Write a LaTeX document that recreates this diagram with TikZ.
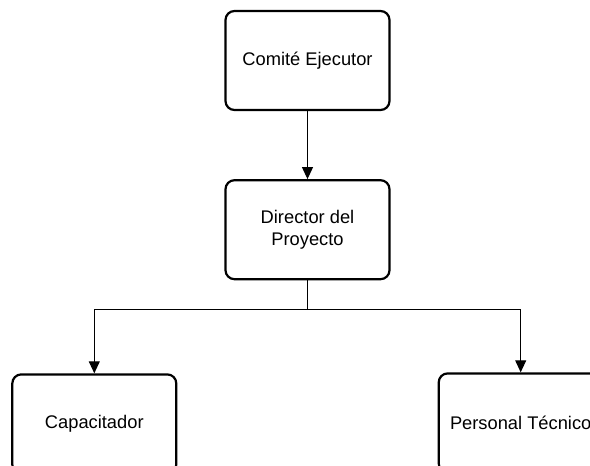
\documentclass[tikz,border=0pt]{standalone}
\usepackage{fontspec}
\setmainfont{Liberation Sans}
\usepackage{tikz}
\usetikzlibrary{arrows.meta, positioning}

\begin{document}
\begin{tikzpicture}[
        node distance=68pt,
        box/.style={rectangle, rounded corners=9pt, draw, line width=2.2pt, minimum width=164pt, minimum height=99pt, align=center, font=\fontsize{18.3}{21.5}\selectfont},
        arrow/.style={->, line width=1pt},
        >={Triangle[width=11pt, length=12pt]}
    ]

    \useasboundingbox (0,0) rectangle (590pt,-466pt);

    \node (comite) [box] at (307.5pt,-60.5pt) {Comité Ejecutor};
    \node (director) [box, below=of comite] {Director del\\Proyecto};
    \node (capacitador) [box, below left=93pt and 47pt of director] {Capacitador};
    \node (personal) [box, below right=92pt and 47pt of director] {Personal Técnico};

    \draw[arrow] (comite) -- (director);
    \draw[arrow] (director.south) -- ++(0,-29pt) -| (capacitador.north);
    \draw[arrow] (director.south) -- ++(0,-29pt) -| (personal.north);

    \end{tikzpicture}
\end{document}
